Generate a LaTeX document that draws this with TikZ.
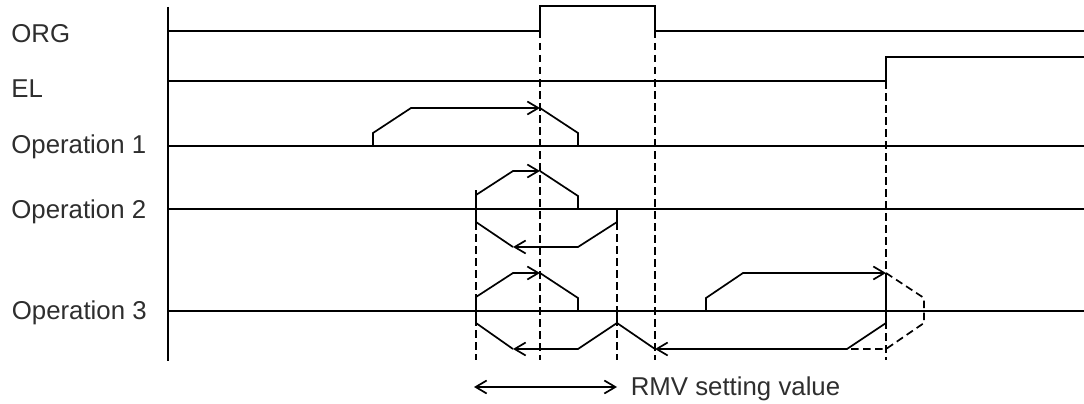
\documentclass[tikz,border=0pt]{standalone}
\usepackage{fontspec}
\setmainfont{Liberation Sans}
\usetikzlibrary{arrows.meta}

\begin{document}
\begin{tikzpicture}[x=1pt,y=-1pt,line width=1.7pt,
  font=\fontsize{25.8}{30}\selectfont,
  label/.style={anchor=base west,inner sep=0pt,text=black!82},
  guide/.style={dash pattern=on 7.5pt off 4.5pt},
  move/.style={-{Straight Barb[length=11pt,width=13pt]}}]
  \useasboundingbox (0,0) rectangle (1084,404);
  % signal names
  \node[label] (org) at (10.5,42.3) {ORG};
  \node[label] (el) at (10.5,97.3) {EL};
  \node[label] (op1) at (10.5,153.3) {Operation 1};
  \node[label] (op2) at (10.5,218.3) {Operation 2};
  \node[label] (op3) at (11,319.3) {Operation 3};
  % time axis and base lines
  \draw (168,7)--(168,361);
  \draw (168,31)--(540,31)--(540,6)--(655,6)--(655,31)--(1084,31);
  \draw (168,81)--(886,81)--(886,57)--(1084,57);
  \foreach \level in {146,209,311}
    \draw (168,\level)--(1084,\level);
  % guide lines
  \foreach \position/\top in {540/31,655/31,886/81,476/222,617/222}
    \draw[guide] (\position,\top)--(\position,360);
  % operation 1
  \draw[move] (373,146)--(373,133)--(411,108)--(540,108);
  \draw (540,108)--(578,133)--(578,146);
  % operation 2
  \draw (476,190)--(476,222);
  \draw[move] (476,195)--(513,171)--(540,171);
  \draw (540,171)--(578,196)--(578,209);
  \draw[move] (617,209)--(617,222)--(578,247)--(513,247);
  \draw (513,247)--(476,222);
  % operation 3
  \draw (476,297)--(476,323);
  \draw[move] (476,297)--(513,273)--(540,273);
  \draw (540,273)--(578,298)--(578,311);
  \draw[move] (617,311)--(617,323)--(578,349)--(513,349);
  \draw (513,349)--(476,323);
  \draw (617,323)--(655,349);
  \draw[move] (706,311)--(706,298)--(743,273)--(886,273);
  \draw[move] (886,273)--(886,323)--(847,349)--(655,349);
  \draw[guide] (886,273)--(924,298)--(924,323)--(886,349)--(847,349);
  % setting range
  \draw[{Straight Barb[length=11pt,width=13pt]}-{Straight Barb[length=11pt,width=13pt]}]
    (474,387)--(617,387);
  \node[label] (rmv) at (630,395) {RMV setting value};
\end{tikzpicture}
\end{document}
